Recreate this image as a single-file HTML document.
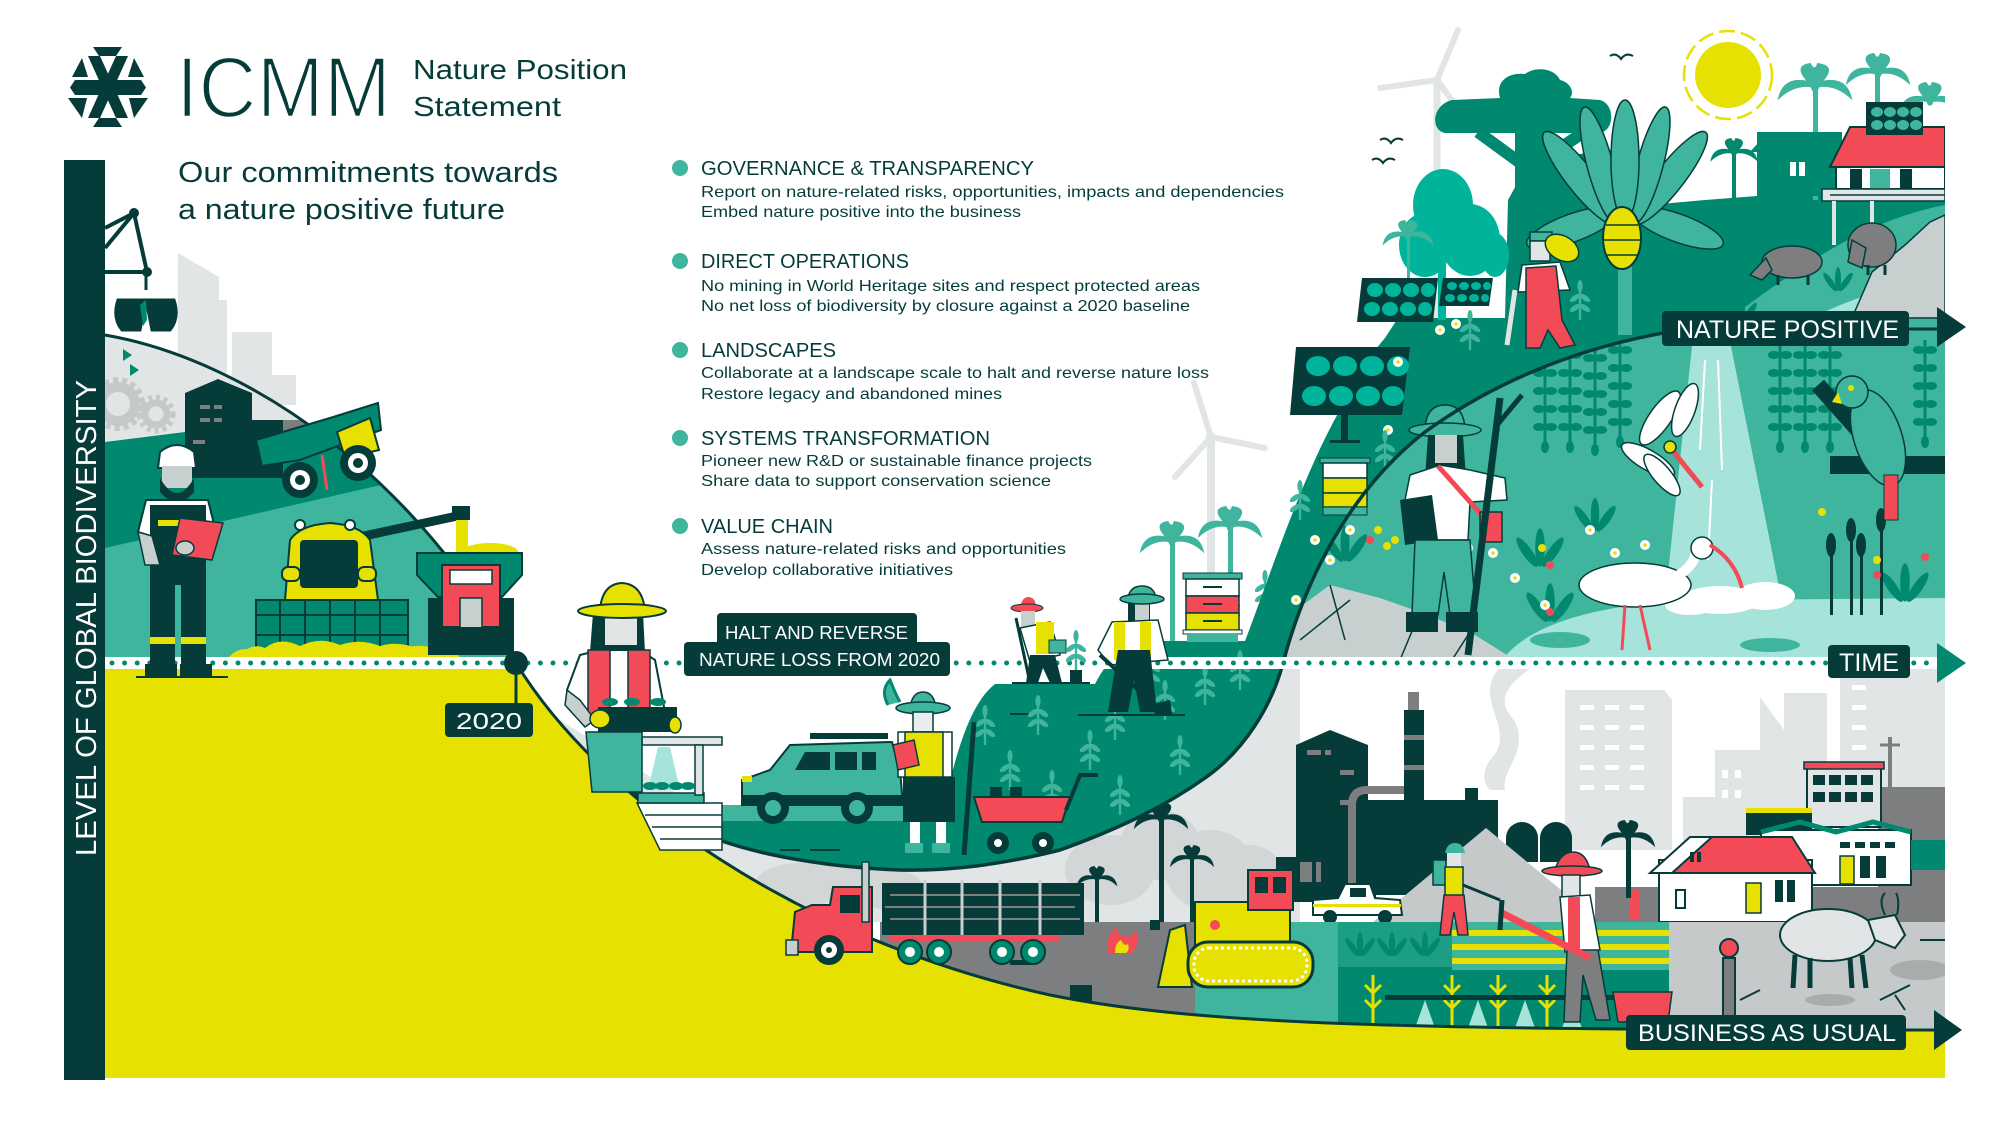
<!DOCTYPE html>
<html><head><meta charset="utf-8"><title>ICMM Nature Position Statement</title>
<style>
html,body{margin:0;padding:0;background:#fff;width:2000px;height:1125px;overflow:hidden}
svg{display:block}
text{font-family:"Liberation Sans",Arial,sans-serif}
</style></head><body>
<svg xmlns="http://www.w3.org/2000/svg" xmlns:xlink="http://www.w3.org/1999/xlink" width="2000" height="1125" viewBox="0 0 2000 1125">
<defs>
 <clipPath id="cl"><path d="M105,335 C250,360 420,480 516,663 L105,663 Z"/></clipPath>
 <clipPath id="cb"><path d="M516,663 C600,800 800,940 1050,995 C1200,1025 1400,1030 1945,1030 L1945,663 Z"/></clipPath>
 <clipPath id="cbowl"><path d="M660,805 L944,805 C955,760 968,705 995,684 L1095,684 C1108,660 1120,645 1143,641 L1290,641 L1283,663 C1272,705 1245,750 1205,778 C1160,810 1110,832 1060,850 C1000,865 950,871 900,870 C840,868 770,858 719,840 C700,830 680,818 660,805 Z"/></clipPath>
 <clipPath id="ci"><path d="M1283,663 C1305,580 1350,490 1425,432 C1490,385 1570,350 1663,333 L1945,328 L1945,663 Z"/></clipPath>
 <clipPath id="cr"><rect x="0" y="0" width="1945" height="1125"/></clipPath>
 <g id="vine" fill="#00896f"><rect x="-1.5" y="0" width="3" height="105"/><ellipse cx="-6" cy="10" rx="6" ry="4"/><ellipse cx="6" cy="10" rx="6" ry="4"/><ellipse cx="-6" cy="28" rx="6" ry="4"/><ellipse cx="6" cy="28" rx="6" ry="4"/><ellipse cx="-6" cy="46" rx="6" ry="4"/><ellipse cx="6" cy="46" rx="6" ry="4"/><ellipse cx="-6" cy="64" rx="6" ry="4"/><ellipse cx="6" cy="64" rx="6" ry="4"/><ellipse cx="-6" cy="82" rx="6" ry="4"/><ellipse cx="6" cy="82" rx="6" ry="4"/><ellipse cx="0" cy="102" rx="4" ry="6"/></g>
 <g id="sap" fill="#3fb59e"><rect x="-1.2" y="-34" width="2.4" height="34"/><ellipse cx="-5" cy="-22" rx="6" ry="2.6" transform="rotate(-35 -5 -22)"/><ellipse cx="5" cy="-22" rx="6" ry="2.6" transform="rotate(35 5 -22)"/><ellipse cx="-5" cy="-12" rx="6" ry="2.6" transform="rotate(-35 -5 -12)"/><ellipse cx="5" cy="-12" rx="6" ry="2.6" transform="rotate(35 5 -12)"/><ellipse cx="0" cy="-34" rx="2.6" ry="6"/></g>
 <g id="fl"><circle r="5" fill="#fff"/><circle r="1.8" fill="#e6e100"/></g>
 <path id="palm" d="M-34,14 Q-30,-8 -8,-4 Q-20,-18 -4,-20 Q0,-12 2,-20 Q20,-18 8,-4 Q30,-8 34,14 Q20,0 4,2 L2,6 L-2,6 L-4,2 Q-20,0 -34,14 Z"/>
 <g id="fan" fill="#00896f"><ellipse cx="-8" cy="-8" rx="3" ry="11" transform="rotate(-35 -8 -8)"/><ellipse cx="0" cy="-11" rx="3" ry="12"/><ellipse cx="8" cy="-8" rx="3" ry="11" transform="rotate(35 8 -8)"/></g>
</defs>

<!-- ===== HEADER ===== -->
<g fill="#053c3a">
 <polygon points="93,47 122,47 116,56 99,56"/>
 <polygon points="99,118 116,118 122,127 93,127"/>
 <polygon points="82,58 72,77 88,77"/>
 <polygon points="134,58 144,77 128,77"/>
 <polygon points="68,98 87,98 82,118"/>
 <polygon points="148,98 129,98 134,118"/>
 <polygon points="75,80 141,80 146,87.5 141,95 75,95 70,87.5"/>
 <polygon points="88,56 100,56 128,118 116,118"/>
 <polygon points="116,56 128,56 100,118 88,118"/>
</g>
<text x="176" y="117" font-size="86" fill="#053c3a" stroke="#fff" stroke-width="2.5" textLength="215" lengthAdjust="spacingAndGlyphs">ICMM</text>
<text x="413" y="79" font-size="28" fill="#053c3a" textLength="214" lengthAdjust="spacingAndGlyphs">Nature Position</text>
<text x="413" y="116" font-size="28" fill="#053c3a" textLength="148" lengthAdjust="spacingAndGlyphs">Statement</text>
<text x="178" y="182" font-size="29" fill="#053c3a" textLength="380" lengthAdjust="spacingAndGlyphs">Our commitments towards</text>
<text x="178" y="219" font-size="29" fill="#053c3a" textLength="327" lengthAdjust="spacingAndGlyphs">a nature positive future</text>

<!-- bar -->
<rect x="64" y="160" width="41" height="920" fill="#053c3a"/>
<text transform="translate(96,856) rotate(-90)" font-size="29" fill="#fff" textLength="476" lengthAdjust="spacingAndGlyphs">LEVEL OF GLOBAL BIODIVERSITY</text>

<!-- list -->
<g fill="#3fb59e"><circle cx="680" cy="168" r="8"/><circle cx="680" cy="261" r="8"/><circle cx="680" cy="350" r="8"/><circle cx="680" cy="438" r="8"/><circle cx="680" cy="526" r="8"/></g>
<g fill="#053c3a" font-size="20">
 <text x="701" y="175" textLength="333" lengthAdjust="spacingAndGlyphs">GOVERNANCE &amp; TRANSPARENCY</text>
 <text x="701" y="268" textLength="208" lengthAdjust="spacingAndGlyphs">DIRECT OPERATIONS</text>
 <text x="701" y="357" textLength="135" lengthAdjust="spacingAndGlyphs">LANDSCAPES</text>
 <text x="701" y="445" textLength="289" lengthAdjust="spacingAndGlyphs">SYSTEMS TRANSFORMATION</text>
 <text x="701" y="533" textLength="132" lengthAdjust="spacingAndGlyphs">VALUE CHAIN</text>
</g>
<g fill="#053c3a" font-size="16">
 <text x="701" y="197" textLength="583" lengthAdjust="spacingAndGlyphs">Report on nature-related risks, opportunities, impacts and dependencies</text>
 <text x="701" y="217" textLength="320" lengthAdjust="spacingAndGlyphs">Embed nature positive into the business</text>
 <text x="701" y="291" textLength="499" lengthAdjust="spacingAndGlyphs">No mining in World Heritage sites and respect protected areas</text>
 <text x="701" y="311" textLength="489" lengthAdjust="spacingAndGlyphs">No net loss of biodiversity by closure against a 2020 baseline</text>
 <text x="701" y="378" textLength="508" lengthAdjust="spacingAndGlyphs">Collaborate at a landscape scale to halt and reverse nature loss</text>
 <text x="701" y="399" textLength="301" lengthAdjust="spacingAndGlyphs">Restore legacy and abandoned mines</text>
 <text x="701" y="466" textLength="391" lengthAdjust="spacingAndGlyphs">Pioneer new R&amp;D or sustainable finance projects</text>
 <text x="701" y="486" textLength="350" lengthAdjust="spacingAndGlyphs">Share data to support conservation science</text>
 <text x="701" y="554" textLength="365" lengthAdjust="spacingAndGlyphs">Assess nature-related risks and opportunities</text>
 <text x="701" y="575" textLength="252" lengthAdjust="spacingAndGlyphs">Develop collaborative initiatives</text>
</g>

<!-- ===== TOP-LEFT CITY + CRANE ===== -->
<g fill="#e2e5e5">
 <polygon points="178,253 219,277 219,400 178,400"/>
 <rect x="219" y="300" width="8" height="100"/>
 <rect x="232" y="332" width="40" height="70"/>
 <rect x="272" y="375" width="24" height="30"/>
</g>
<g stroke="#053c3a" stroke-width="4" fill="none">
 <line x1="105" y1="228" x2="134" y2="213"/>
 <line x1="105" y1="248" x2="134" y2="213"/>
 <line x1="134" y1="213" x2="147" y2="272"/>
 <line x1="105" y1="272" x2="147" y2="272"/>
</g>
<circle cx="134" cy="213" r="5" fill="#053c3a"/><circle cx="147" cy="272" r="5" fill="#053c3a"/>
<path d="M146,276 L146,290 M118,300 Q112,318 122,330 L140,330 L146,300 Z M174,300 Q180,318 170,330 L152,330 L146,300 Z" fill="#053c3a" stroke="#053c3a" stroke-width="3"/>
<polygon points="140,305 146,300 147,320 143,326" fill="#00896f"/>

<!-- wind turbines (behind) -->
<g stroke="#e2e5e5" stroke-linecap="round" fill="none">
 <path d="M1437,82 L1437,330" stroke-width="7"/>
 <path d="M1437,80 L1458,30 M1437,80 L1380,88 M1437,80 L1462,114" stroke-width="6"/>
 <path d="M1211,440 L1211,641" stroke-width="8"/>
 <path d="M1211,437 L1194,383 M1211,437 L1265,448 M1211,437 L1175,477" stroke-width="6"/>
</g>
<circle cx="1437" cy="80" r="4" fill="#e2e5e5"/><circle cx="1211" cy="437" r="5" fill="#e2e5e5"/>

<!-- ===== LEFT HILL ===== -->
<g clip-path="url(#cl)">
 <rect x="105" y="330" width="420" height="340" fill="#e2e5e5"/>
 <g fill="none" stroke="#c6c9ca">
  <circle cx="118" cy="404" r="17" stroke-width="10"/>
  <circle cx="118" cy="404" r="24" stroke-width="6" stroke-dasharray="5 4"/>
  <circle cx="156" cy="414" r="11" stroke-width="7"/>
  <circle cx="156" cy="414" r="17" stroke-width="5" stroke-dasharray="4 4"/>
 </g>
 <polygon points="123,349 132,355 123,361" fill="#00896f"/>
 <polygon points="130,364 139,370 130,376" fill="#00896f"/>
 <path d="M105,442 L185,432 L250,430 L520,392 L520,663 L105,663 Z" fill="#00896f"/>
 <rect x="265" y="420" width="60" height="30" fill="#7c7e7f"/>
 <path d="M185,393 L218,379 L252,393 L252,420 L283,420 L283,478 L185,478 Z" fill="#053c3a"/>
 <g fill="#7c7e7f"><rect x="200" y="405" width="10" height="4"/><rect x="214" y="405" width="8" height="4"/><rect x="200" y="418" width="10" height="4"/><rect x="214" y="418" width="8" height="4"/><rect x="193" y="440" width="12" height="4"/></g>
 <path d="M105,548 L250,515 L385,484 L520,470 L520,663 L105,663 Z" fill="#3fb59e"/>
 <path d="M225,663 Q235,645 255,650 Q265,638 285,647 Q300,636 320,646 Q340,638 360,647 Q380,640 400,649 Q420,642 440,650 Q455,648 465,663 Z" fill="#e6e100"/>
</g>

<!-- ===== YELLOW ===== -->
<path d="M105,663 L516,663 C600,800 800,940 1050,995 C1200,1025 1400,1030 1945,1030 L1945,1078 L105,1078 Z" fill="#e6e100"/>

<!-- ===== BAU ZONE ===== -->
<g clip-path="url(#cb)">
 <path d="M560,720 L719,820 L900,860 L1100,830 L1214,770 L1262,700 L1300,663 L1300,922 L560,922 Z" fill="#e2e5e5"/>
 <path d="M1200,670 C1250,700 1230,740 1255,770 C1275,800 1260,830 1266,847 L1300,847 L1300,663 Z" fill="#e2e5e5"/>
 <g fill="#d3d6d7">
  <ellipse cx="800" cy="885" rx="45" ry="22"/><ellipse cx="850" cy="875" rx="40" ry="22"/><ellipse cx="890" cy="890" rx="35" ry="20"/>
  <ellipse cx="1110" cy="870" rx="45" ry="35"/><ellipse cx="1160" cy="845" rx="40" ry="35"/><ellipse cx="1210" cy="870" rx="45" ry="40"/><ellipse cx="1250" cy="880" rx="35" ry="35"/>
 </g>
 <g fill="#e2e5e5">
  <rect x="1565" y="690" width="99" height="160"/>
  <polygon points="1664,690 1672,700 1672,850 1664,850"/>
  <rect x="1715" y="750" width="46" height="110"/>
  <rect x="1683" y="797" width="40" height="70"/>
  <polygon points="1760,697 1784,730 1784,860 1760,860"/>
  <rect x="1784" y="693" width="43" height="170"/>
  <rect x="1840" y="667" width="105" height="120"/>
  <path d="M1500,667 C1470,700 1520,730 1490,760 C1480,775 1485,785 1490,790 L1505,790 C1500,770 1535,745 1510,715 C1495,695 1515,680 1532,667 Z"/>
 </g>
 <g fill="#fff">
  <rect x="1580" y="705" width="14" height="5"/><rect x="1605" y="705" width="14" height="5"/><rect x="1630" y="705" width="14" height="5"/>
  <rect x="1580" y="725" width="14" height="5"/><rect x="1605" y="725" width="14" height="5"/><rect x="1630" y="725" width="14" height="5"/>
  <rect x="1580" y="745" width="14" height="5"/><rect x="1605" y="745" width="14" height="5"/><rect x="1630" y="745" width="14" height="5"/>
  <rect x="1580" y="765" width="14" height="5"/><rect x="1605" y="765" width="14" height="5"/><rect x="1630" y="765" width="14" height="5"/>
  <rect x="1580" y="785" width="14" height="5"/><rect x="1605" y="785" width="14" height="5"/><rect x="1630" y="785" width="14" height="5"/>
  <rect x="1852" y="685" width="14" height="5"/><rect x="1852" y="705" width="14" height="5"/><rect x="1852" y="725" width="14" height="5"/><rect x="1852" y="745" width="14" height="5"/>
  <rect x="1722" y="770" width="6" height="8"/><rect x="1735" y="770" width="6" height="8"/><rect x="1722" y="790" width="6" height="8"/><rect x="1735" y="790" width="6" height="8"/>
 </g>
 <g fill="#053c3a">
  <path d="M1296,900 L1296,745 L1330,730 L1368,745 L1368,900 Z"/>
  <rect x="1276" y="857" width="100" height="45"/>
  <rect x="1404" y="710" width="20" height="165"/>
  <rect x="1368" y="800" width="130" height="95"/>
  <rect x="1465" y="788" width="13" height="30"/>
  <path d="M1506,862 L1506,838 A16,16 0 0 1 1538,838 L1538,862 Z"/>
  <path d="M1540,862 L1540,838 A16,16 0 0 1 1572,838 L1572,862 Z"/>
 </g>
 <g fill="#7c7e7f">
  <rect x="1408" y="692" width="11" height="18"/><rect x="1404" y="735" width="20" height="5"/><rect x="1404" y="765" width="20" height="5"/>
  <rect x="1307" y="750" width="14" height="5"/><rect x="1325" y="750" width="6" height="5"/><rect x="1340" y="770" width="14" height="5"/><rect x="1340" y="800" width="14" height="5"/>
  <rect x="1300" y="862" width="12" height="20"/><rect x="1316" y="862" width="5" height="20"/>
 </g>
 <path d="M1352,900 L1352,805 Q1352,790 1367,790 L1404,790" stroke="#7c7e7f" stroke-width="8" fill="none"/>
 <polygon points="1373,922 1486,828 1600,922" fill="#c6c9ca"/>
 <rect x="1595" y="887" width="350" height="35" fill="#7c7e7f"/>
 <rect x="1878" y="787" width="67" height="100" fill="#7c7e7f"/>
 <rect x="1807" y="767" width="74" height="60" fill="#e2e5e5" stroke="#053c3a" stroke-width="2"/>
 <rect x="1804" y="762" width="80" height="7" fill="#f24b57" stroke="#053c3a" stroke-width="1.5"/>
 <g fill="#053c3a"><rect x="1813" y="775" width="12" height="10"/><rect x="1829" y="775" width="12" height="10"/><rect x="1845" y="775" width="12" height="10"/><rect x="1861" y="775" width="12" height="10"/><rect x="1813" y="792" width="12" height="10"/><rect x="1829" y="792" width="12" height="10"/><rect x="1845" y="792" width="12" height="10"/><rect x="1861" y="792" width="12" height="10"/></g>
 <rect x="1746" y="810" width="66" height="25" fill="#053c3a"/><rect x="1746" y="808" width="66" height="5" fill="#e6e100"/>
 <rect x="1761" y="830" width="150" height="55" fill="#fff" stroke="#053c3a" stroke-width="2"/>
 <path d="M1761,832 L1800,822 L1836,832 L1873,822 L1911,832" stroke="#00896f" stroke-width="5" fill="none"/>
 <g fill="#053c3a"><rect x="1770" y="842" width="10" height="6"/><rect x="1785" y="842" width="10" height="6"/><rect x="1840" y="842" width="10" height="6"/><rect x="1855" y="842" width="10" height="6"/><rect x="1870" y="842" width="10" height="6"/><rect x="1885" y="842" width="10" height="6"/><rect x="1860" y="856" width="10" height="22"/><rect x="1876" y="856" width="10" height="22"/></g>
 <rect x="1840" y="856" width="14" height="28" fill="#e6e100" stroke="#053c3a" stroke-width="1.5"/>
 <rect x="1911" y="840" width="34" height="30" fill="#00896f"/>
 <rect x="1659" y="860" width="153" height="62" fill="#fff" stroke="#053c3a" stroke-width="2"/>
 <polygon points="1669,873 1710,837 1792,837 1815,873" fill="#f24b57" stroke="#053c3a" stroke-width="2"/>
 <polygon points="1650,873 1690,837 1712,837 1672,873" fill="#fff" stroke="#053c3a" stroke-width="2"/>
 <rect x="1676" y="890" width="9" height="18" fill="#fff" stroke="#053c3a" stroke-width="2"/>
 <rect x="1746" y="883" width="15" height="30" fill="#e6e100" stroke="#053c3a" stroke-width="1.5"/>
 <g fill="#053c3a"><rect x="1775" y="880" width="8" height="22"/><rect x="1787" y="880" width="8" height="22"/><rect x="1690" y="852" width="4" height="10"/><rect x="1697" y="852" width="4" height="10"/></g>
 <rect x="1630" y="890" width="10" height="30" fill="#f24b57"/>
 <path d="M1313,915 L1313,900 L1338,898 L1345,884 L1370,884 L1375,898 L1400,900 L1402,915 Z" fill="#fff" stroke="#053c3a" stroke-width="2"/>
 <rect x="1313" y="904" width="88" height="3" fill="#e6e100"/>
 <rect x="1350" y="888" width="16" height="9" fill="#053c3a"/>
 <circle cx="1330" cy="917" r="7" fill="#053c3a"/><circle cx="1385" cy="917" r="7" fill="#053c3a"/>
 <g fill="#053c3a">
  <rect x="1095" y="880" width="4" height="45"/><use xlink:href="#palm" transform="translate(1097,878) scale(0.6)"/>
  <rect x="1159" y="820" width="5" height="105"/><use xlink:href="#palm" transform="translate(1161,818) scale(0.8)"/>
  <rect x="1190" y="860" width="4" height="65"/><use xlink:href="#palm" transform="translate(1192,858) scale(0.65)"/>
  <rect x="1626" y="838" width="5" height="60"/><use xlink:href="#palm" transform="translate(1628,836) scale(0.8)"/>
 </g>
 <rect x="880" y="922" width="315" height="115" fill="#7c7e7f"/>
 <rect x="1195" y="922" width="143" height="115" fill="#3fb59e"/>
 <rect x="1338" y="922" width="114" height="115" fill="#00896f"/>
 <rect x="1338" y="922" width="114" height="45" fill="#3fb59e" opacity="0.45"/>
 <g fill="#3fb59e"><use xlink:href="#fan" transform="translate(1360,955)"/><use xlink:href="#fan" transform="translate(1392,955)"/><use xlink:href="#fan" transform="translate(1425,955)"/></g>
 <rect x="1452" y="922" width="217" height="48" fill="#3fb59e"/>
 <g fill="#e6e100"><rect x="1452" y="930" width="217" height="6"/><rect x="1452" y="944" width="217" height="6"/><rect x="1452" y="958" width="217" height="6"/></g>
 <rect x="1452" y="970" width="217" height="65" fill="#00896f"/>
 <g fill="#a6e3da"><polygon points="1415,1028 1425,1000 1435,1028"/><polygon points="1468,1028 1478,1000 1488,1028"/><polygon points="1515,1028 1525,1000 1535,1028"/><polygon points="1562,1028 1572,1000 1582,1028"/></g>
 <g stroke="#e6e100" stroke-width="3" fill="none">
  <path d="M1373,1028 L1373,975 M1365,985 L1373,993 L1381,985 M1365,1000 L1373,1008 L1381,1000"/>
  <path d="M1452,1028 L1452,975 M1444,985 L1452,993 L1460,985 M1444,1000 L1452,1008 L1460,1000"/>
  <path d="M1498,1028 L1498,975 M1490,985 L1498,993 L1506,985 M1490,1000 L1498,1008 L1506,1000"/>
  <path d="M1547,1028 L1547,975 M1539,985 L1547,993 L1555,985 M1539,1000 L1547,1008 L1555,1000"/>
 </g>
 <rect x="1385" y="995" width="250" height="5" fill="#053c3a"/>
 <rect x="1669" y="922" width="276" height="115" fill="#c6c9ca"/>
 <ellipse cx="1920" cy="970" rx="30" ry="10" fill="#a9acad"/><ellipse cx="1830" cy="1000" rx="25" ry="6" fill="#a9acad"/>
 <g stroke="#053c3a" stroke-width="2" fill="none"><path d="M1880,1000 L1910,985 M1895,995 L1905,1010 M1740,1000 L1760,990 M1920,940 L1945,940"/></g>
 <g fill="#053c3a"><rect x="1070" y="985" width="22" height="18"/><rect x="1150" y="920" width="10" height="10"/><rect x="1010" y="960" width="20" height="5"/><ellipse cx="1180" cy="975" rx="12" ry="8"/></g>
 <path d="M1108,953 Q1105,935 1118,926 Q1116,938 1124,935 Q1130,940 1136,930 Q1140,945 1132,953 Z" fill="#f24b57"/>
 <path d="M1115,953 Q1115,943 1121,940 Q1124,947 1128,944 Q1130,950 1126,953 Z" fill="#e6e100"/>
 <ellipse cx="1828" cy="935" rx="48" ry="26" fill="#e2e5e5" stroke="#053c3a" stroke-width="2"/>
 <path d="M1868,920 L1895,915 L1905,935 L1895,948 L1875,940 Z" fill="#e2e5e5" stroke="#053c3a" stroke-width="2"/>
 <path d="M1885,915 Q1878,900 1885,893 M1897,915 Q1900,900 1896,893" stroke="#053c3a" stroke-width="2" fill="none"/>
 <g stroke="#053c3a" stroke-width="5"><line x1="1795" y1="955" x2="1793" y2="988"/><line x1="1810" y1="958" x2="1810" y2="988"/><line x1="1850" y1="958" x2="1852" y2="988"/><line x1="1862" y1="955" x2="1866" y2="988"/></g>
 <rect x="1723" y="958" width="12" height="60" fill="#7c7e7f" stroke="#053c3a" stroke-width="2"/>
 <circle cx="1729" cy="948" r="9" fill="#f24b57" stroke="#053c3a" stroke-width="2"/>
 <line x1="1890" y1="737" x2="1890" y2="790" stroke="#7c7e7f" stroke-width="4"/><line x1="1880" y1="745" x2="1900" y2="745" stroke="#7c7e7f" stroke-width="3"/>
</g>

<!-- ===== BOWL ===== -->
<g clip-path="url(#cbowl)">
 <rect x="650" y="630" width="650" height="250" fill="#00896f"/>
 <rect x="719" y="801" width="230" height="20" fill="#3fb59e"/>
 <g stroke="#053c3a" stroke-width="2"><line x1="780" y1="850" x2="800" y2="850"/><line x1="810" y1="850" x2="840" y2="850"/><line x1="1010" y1="714" x2="1030" y2="714"/></g>
</g>
<g>
 <use xlink:href="#sap" x="985" y="745"/><use xlink:href="#sap" x="1010" y="790"/><use xlink:href="#sap" x="1052" y="810"/><use xlink:href="#sap" x="1038" y="735"/>
 <use xlink:href="#sap" x="1090" y="770"/><use xlink:href="#sap" x="1120" y="815"/><use xlink:href="#sap" x="1115" y="740"/><use xlink:href="#sap" x="1165" y="720"/>
 <use xlink:href="#sap" x="1180" y="775"/><use xlink:href="#sap" x="1205" y="705"/><use xlink:href="#sap" x="1240" y="690"/><use xlink:href="#sap" x="1150" y="690"/>
 <use xlink:href="#sap" x="1230" y="625"/><use xlink:href="#sap" x="1265" y="610"/>
</g>

<!-- ===== NATURE REGION ===== -->
<g clip-path="url(#cr)">
 <path d="M1245,663 L1245,641 C1265,590 1300,480 1340,410 C1355,380 1370,355 1385,338 L1398,318 L1505,318 L1508,200 L1530,160 L1612,150 L1650,205 L1705,200 L1757,196 L1757,132 L1842,132 L1842,196 L1945,190 L1945,663 Z" fill="#00896f"/>
 <path d="M1445,133 C1430,130 1432,105 1452,100 L1500,98 C1495,80 1510,72 1525,74 C1535,66 1555,68 1560,80 C1570,82 1575,92 1570,98 L1600,100 C1615,104 1615,130 1600,133 Z" fill="#00896f"/>
 <rect x="1515" y="125" width="34" height="200" fill="#00896f"/>
 <path d="M1530,170 L1478,132 M1535,165 L1590,128" stroke="#00896f" stroke-width="12"/>
 <g fill="#00b39b">
  <ellipse cx="1443" cy="205" rx="30" ry="36"/><ellipse cx="1425" cy="245" rx="26" ry="32"/><ellipse cx="1470" cy="240" rx="30" ry="36"/><ellipse cx="1495" cy="255" rx="14" ry="22"/>
  <rect x="1438" y="250" width="8" height="70"/>
 </g>
 <g fill="#3fb59e"><rect x="1407" y="235" width="3" height="85"/><use xlink:href="#palm" transform="translate(1408,235) scale(0.75)"/></g>
 <path d="M1705,335 C1760,300 1840,225 1945,205 L1945,335 Z" fill="#3fb59e"/>
 <path d="M1790,330 C1830,305 1880,290 1945,270 L1945,286 C1890,305 1840,325 1810,336 Z" fill="#a6e3da"/>
 <g fill="#3fb59e" stroke="#053c3a" stroke-width="1.5">
  <ellipse cx="1572" cy="228" rx="48" ry="14" transform="rotate(-20 1572 228)"/>
  <ellipse cx="1678" cy="228" rx="48" ry="14" transform="rotate(20 1678 228)"/>
  <ellipse cx="1580" cy="178" rx="14" ry="58" transform="rotate(-38 1580 178)"/>
  <ellipse cx="1670" cy="178" rx="14" ry="58" transform="rotate(38 1670 178)"/>
  <ellipse cx="1600" cy="165" rx="13" ry="60" transform="rotate(-15 1600 165)"/>
  <ellipse cx="1650" cy="165" rx="13" ry="60" transform="rotate(15 1650 165)"/>
  <ellipse cx="1625" cy="160" rx="14" ry="60"/>
 </g>
 <rect x="1618" y="250" width="14" height="85" fill="#3fb59e"/>
 <ellipse cx="1622" cy="238" rx="19" ry="31" fill="#e6e100" stroke="#053c3a" stroke-width="2"/>
 <path d="M1606,225 L1638,225 M1604,240 L1640,240 M1606,255 L1638,255" stroke="#053c3a" stroke-width="1.5"/>
 <circle cx="1728" cy="75" r="33" fill="#e6e100"/>
 <circle cx="1728" cy="75" r="44" fill="none" stroke="#e6e100" stroke-width="2.5" stroke-dasharray="16 6"/>
 <g fill="#3fb59e">
  <rect x="1813" y="85" width="5" height="115"/><use xlink:href="#palm" transform="translate(1815,85) scale(1.1)"/>
  <rect x="1875" y="72" width="5" height="60"/><use xlink:href="#palm" transform="translate(1878,72) scale(0.95)"/>
  <use xlink:href="#palm" transform="translate(1930,100) scale(0.9)"/>
 </g>
 <rect x="1757" y="150" width="70" height="46" fill="#00896f"/>
 <polygon points="1750,152 1768,132 1818,132 1834,152" fill="#00896f"/>
 <g fill="#fff"><rect x="1790" y="162" width="6" height="14"/><rect x="1799" y="162" width="6" height="14"/></g>
 <g fill="#00896f"><rect x="1732" y="150" width="4" height="50"/><use xlink:href="#palm" transform="translate(1734,152) scale(0.7)"/></g>
 <rect x="1836" y="167" width="109" height="22" fill="#fff" stroke="#053c3a" stroke-width="2"/>
 <g fill="#053c3a"><rect x="1850" y="169" width="12" height="20"/><rect x="1900" y="169" width="12" height="20"/></g>
 <rect x="1870" y="169" width="20" height="20" fill="#3fb59e"/>
 <rect x="1822" y="189" width="123" height="12" fill="#e2e5e5" stroke="#053c3a" stroke-width="1.5"/>
 <path d="M1830,195 L1945,195" stroke="#053c3a" stroke-width="1.5"/>
 <g fill="#e2e5e5"><rect x="1832" y="201" width="4" height="44"/><rect x="1870" y="201" width="4" height="30"/></g>
 <polygon points="1830,167 1850,127 1945,127 1945,167" fill="#f24b57" stroke="#053c3a" stroke-width="2"/>
 <rect x="1866" y="102" width="57" height="33" fill="#053c3a"/>
 <g fill="#3fb59e"><ellipse cx="1877" cy="112" rx="6" ry="5"/><ellipse cx="1890" cy="112" rx="6" ry="5"/><ellipse cx="1903" cy="112" rx="6" ry="5"/><ellipse cx="1916" cy="112" rx="6" ry="5"/><ellipse cx="1877" cy="125" rx="6" ry="5"/><ellipse cx="1890" cy="125" rx="6" ry="5"/><ellipse cx="1903" cy="125" rx="6" ry="5"/><ellipse cx="1916" cy="125" rx="6" ry="5"/></g>
 <polygon points="1852,318 1872,272 1905,245 1930,222 1945,215 1945,318" fill="#c8cfcf" stroke="#053c3a" stroke-width="1.5"/>
 <g fill="#7c7e7f" stroke="#053c3a" stroke-width="1.5">
  <ellipse cx="1792" cy="262" rx="30" ry="16"/><path d="M1766,258 L1750,275 L1762,280 L1772,270 Z"/>
  <ellipse cx="1872" cy="245" rx="24" ry="22"/><path d="M1852,240 L1848,262 L1862,268 L1866,248 Z"/>
 </g>
 <g stroke="#053c3a" stroke-width="3"><line x1="1778" y1="275" x2="1778" y2="285"/><line x1="1808" y1="275" x2="1808" y2="285"/><line x1="1868" y1="265" x2="1868" y2="275"/><line x1="1885" y1="265" x2="1885" y2="275"/></g>
 <g fill="#3fb59e"><use xlink:href="#fan" transform="translate(1720,318)"/><use xlink:href="#fan" transform="translate(1742,320)"/><use xlink:href="#fan" transform="translate(1838,290)"/></g>
 <use xlink:href="#sap" x="1470" y="350"/><use xlink:href="#sap" x="1580" y="320"/>

 <g clip-path="url(#ci)">
  <rect x="1250" y="320" width="700" height="350" fill="#3fb59e"/>
  <use xlink:href="#vine" x="1545" y="345"/><use xlink:href="#vine" x="1570" y="345"/><use xlink:href="#vine" x="1595" y="348"/><use xlink:href="#vine" x="1620" y="340"/>
  <use xlink:href="#vine" x="1780" y="345"/><use xlink:href="#vine" x="1805" y="345"/><use xlink:href="#vine" x="1830" y="345"/><use xlink:href="#vine" x="1925" y="340"/>
  <polygon points="1692,346 1731,346 1784,612 1664,612" fill="#a6e3da"/>
  <g stroke="#fff" stroke-width="2"><line x1="1705" y1="360" x2="1700" y2="450"/><line x1="1718" y1="360" x2="1722" y2="470"/><line x1="1712" y1="480" x2="1708" y2="560"/></g>
  <path d="M1500,663 C1530,618 1620,600 1720,600 L1945,598 L1945,663 Z" fill="#a6e3da"/>
  <g fill="#fff"><ellipse cx="1720" cy="600" rx="40" ry="14"/><ellipse cx="1765" cy="596" rx="30" ry="14"/><ellipse cx="1690" cy="605" rx="25" ry="10"/></g>
  <ellipse cx="1560" cy="640" rx="30" ry="8" fill="#3fb59e"/><ellipse cx="1770" cy="645" rx="30" ry="7" fill="#3fb59e"/>
  <polygon points="1262,663 1285,618 1330,585 1380,598 1420,612 1470,632 1520,663" fill="#c8cfcf"/>
  <g stroke="#053c3a" stroke-width="1.5" fill="none"><path d="M1330,585 L1345,640 M1300,640 L1350,600 M1420,612 L1400,660 M1470,632 L1450,663"/></g>
  <g fill="#00896f"><use xlink:href="#fan" transform="translate(1540,565) scale(1.6)"/><use xlink:href="#fan" transform="translate(1595,530) scale(1.4)"/><use xlink:href="#fan" transform="translate(1550,620) scale(1.6)"/><use xlink:href="#fan" transform="translate(1610,600) scale(1.3)"/><use xlink:href="#fan" transform="translate(1345,560) scale(1.5)"/><use xlink:href="#fan" transform="translate(1905,600) scale(1.6)"/></g>
  <g fill="#053c3a"><rect x="1830" y="540" width="3" height="75"/><ellipse cx="1831" cy="545" rx="5" ry="12"/><rect x="1850" y="525" width="3" height="90"/><ellipse cx="1851" cy="530" rx="5" ry="12"/><rect x="1860" y="540" width="3" height="75"/><ellipse cx="1861" cy="545" rx="5" ry="12"/><rect x="1880" y="515" width="3" height="100"/><ellipse cx="1881" cy="520" rx="5" ry="12"/></g>
  <g fill="#e6e100"><circle cx="1378" cy="530" r="4"/><circle cx="1387" cy="546" r="4"/><circle cx="1395" cy="540" r="4"/><circle cx="1542" cy="548" r="4"/><circle cx="1822" cy="512" r="4"/><circle cx="1877" cy="560" r="4"/></g>
  <g fill="#f24b57"><circle cx="1370" cy="540" r="4"/><circle cx="1550" cy="565" r="4"/><circle cx="1550" cy="612" r="4"/><circle cx="1925" cy="557" r="4"/><circle cx="1877" cy="575" r="4"/></g>
  <use xlink:href="#fl" x="1590" y="530"/><use xlink:href="#fl" x="1615" y="553"/><use xlink:href="#fl" x="1545" y="605"/><use xlink:href="#fl" x="1645" y="545"/><use xlink:href="#fl" x="1515" y="578"/><use xlink:href="#fl" x="1468" y="548"/><use xlink:href="#fl" x="1493" y="553"/>
 </g>
 <rect x="1320" y="458" width="50" height="5" fill="#3fb59e" stroke="#053c3a" stroke-width="1"/>
 <rect x="1323" y="463" width="44" height="15" fill="#fff" stroke="#053c3a" stroke-width="1.5"/>
 <rect x="1323" y="478" width="44" height="15" fill="#e6e100" stroke="#053c3a" stroke-width="1.5"/>
 <rect x="1323" y="493" width="44" height="14" fill="#e6e100" stroke="#053c3a" stroke-width="1.5"/>
 <rect x="1323" y="507" width="44" height="8" fill="#3fb59e" stroke="#053c3a" stroke-width="1"/>
 <polygon points="1296,347 1410,347 1402,415 1290,415" fill="#053c3a"/>
 <g fill="#00b39b"><ellipse cx="1318" cy="366" rx="12" ry="10"/><ellipse cx="1345" cy="366" rx="12" ry="10"/><ellipse cx="1372" cy="366" rx="12" ry="10"/><ellipse cx="1398" cy="366" rx="11" ry="10"/><ellipse cx="1314" cy="396" rx="12" ry="10"/><ellipse cx="1341" cy="396" rx="12" ry="10"/><ellipse cx="1368" cy="396" rx="12" ry="10"/><ellipse cx="1393" cy="396" rx="11" ry="10"/></g>
 <rect x="1341" y="415" width="7" height="27" fill="#053c3a"/><rect x="1330" y="440" width="30" height="3" fill="#053c3a"/>
 <polygon points="1362,278 1438,278 1433,322 1357,322" fill="#053c3a"/>
 <g fill="#00b39b"><ellipse cx="1375" cy="290" rx="8" ry="7"/><ellipse cx="1393" cy="290" rx="8" ry="7"/><ellipse cx="1411" cy="290" rx="8" ry="7"/><ellipse cx="1428" cy="290" rx="7" ry="7"/><ellipse cx="1372" cy="309" rx="8" ry="7"/><ellipse cx="1390" cy="309" rx="8" ry="7"/><ellipse cx="1408" cy="309" rx="8" ry="7"/><ellipse cx="1425" cy="309" rx="7" ry="7"/></g>
 <polygon points="1443,278 1493,278 1489,306 1439,306" fill="#053c3a"/>
 <g fill="#00b39b"><ellipse cx="1452" cy="286" rx="5" ry="4"/><ellipse cx="1464" cy="286" rx="5" ry="4"/><ellipse cx="1476" cy="286" rx="5" ry="4"/><ellipse cx="1487" cy="286" rx="4" ry="4"/><ellipse cx="1450" cy="298" rx="5" ry="4"/><ellipse cx="1462" cy="298" rx="5" ry="4"/><ellipse cx="1474" cy="298" rx="5" ry="4"/><ellipse cx="1485" cy="298" rx="4" ry="4"/></g>
 <use xlink:href="#fl" x="1440" y="330"/><use xlink:href="#fl" x="1456" y="324"/><use xlink:href="#fl" x="1398" y="362"/><use xlink:href="#fl" x="1388" y="430"/><use xlink:href="#fl" x="1350" y="530"/><use xlink:href="#fl" x="1315" y="540"/><use xlink:href="#fl" x="1330" y="560"/><use xlink:href="#fl" x="1296" y="600"/>
 <use xlink:href="#sap" x="1300" y="520"/><use xlink:href="#sap" x="1385" y="470"/>
 <g stroke="#053c3a" stroke-width="2" fill="none"><path d="M1610,56 Q1616,52 1621,59 Q1626,52 1633,56"/><path d="M1380,140 Q1386,136 1391,143 Q1396,136 1403,140"/><path d="M1372,160 Q1378,156 1383,163 Q1388,156 1395,160"/></g>

 <rect x="1530" y="232" width="22" height="9" fill="#3fb59e" stroke="#053c3a" stroke-width="1.5"/>
 <rect x="1530" y="241" width="20" height="20" fill="#e2e5e5" stroke="#053c3a" stroke-width="1.5"/>
 <path d="M1518,292 L1522,265 L1560,262 L1570,290 Z" fill="#fff" stroke="#053c3a" stroke-width="1.5"/>
 <path d="M1526,268 L1556,266 L1562,320 L1575,345 L1560,348 L1548,330 L1540,348 L1526,348 Z" fill="#f24b57" stroke="#053c3a" stroke-width="1.5"/>
 <ellipse cx="1562" cy="248" rx="18" ry="12" fill="#e6e100" stroke="#053c3a" stroke-width="1.5" transform="rotate(30 1562 248)"/>
 <line x1="1515" y1="290" x2="1507" y2="345" stroke="#e2e5e5" stroke-width="5"/>

 <path d="M1425,432 Q1425,405 1445,405 Q1465,405 1465,432 Z" fill="#3fb59e" stroke="#053c3a" stroke-width="1.5"/>
 <ellipse cx="1445" cy="430" rx="36" ry="7" fill="#3fb59e" stroke="#053c3a" stroke-width="1.5"/>
 <path d="M1428,435 L1463,435 L1466,478 L1425,478 Z" fill="#053c3a"/>
 <rect x="1435" y="435" width="22" height="28" fill="#c8cfcf"/>
 <path d="M1410,475 L1440,465 L1470,470 L1505,478 L1507,500 L1470,502 L1468,540 L1415,540 L1404,505 Z" fill="#fff" stroke="#053c3a" stroke-width="1.5"/>
 <line x1="1438" y1="466" x2="1488" y2="522" stroke="#f24b57" stroke-width="5"/>
 <rect x="1480" y="512" width="22" height="30" fill="#f24b57" stroke="#053c3a" stroke-width="1.5"/>
 <polygon points="1400,500 1432,495 1438,540 1405,545" fill="#053c3a"/>
 <path d="M1415,540 L1470,540 L1476,615 L1450,615 L1444,572 L1438,615 L1412,615 Z" fill="#3fb59e" stroke="#053c3a" stroke-width="1.5"/>
 <rect x="1406" y="612" width="32" height="20" fill="#053c3a"/><rect x="1446" y="612" width="32" height="20" fill="#053c3a"/>
 <line x1="1500" y1="398" x2="1468" y2="655" stroke="#053c3a" stroke-width="7"/>
 <line x1="1497" y1="425" x2="1522" y2="395" stroke="#053c3a" stroke-width="5"/>
 <g fill="#fff" stroke="#053c3a" stroke-width="1.5">
  <ellipse cx="1660" cy="418" rx="11" ry="32" transform="rotate(35 1660 418)"/>
  <ellipse cx="1685" cy="410" rx="10" ry="28" transform="rotate(20 1685 410)"/>
  <ellipse cx="1648" cy="460" rx="10" ry="30" transform="rotate(-60 1648 460)"/>
  <ellipse cx="1662" cy="475" rx="9" ry="26" transform="rotate(-40 1662 475)"/>
 </g>
 <line x1="1668" y1="445" x2="1702" y2="487" stroke="#f24b57" stroke-width="5"/>
 <circle cx="1670" cy="447" r="6" fill="#e6e100" stroke="#053c3a" stroke-width="1.5"/>
 <ellipse cx="1635" cy="585" rx="56" ry="22" fill="#fff" stroke="#053c3a" stroke-width="1.5"/>
 <path d="M1670,580 Q1700,565 1695,545" stroke="#fff" stroke-width="10" fill="none"/>
 <circle cx="1702" cy="548" r="11" fill="#fff" stroke="#053c3a" stroke-width="1.5"/>
 <path d="M1710,545 Q1735,560 1742,588" stroke="#f24b57" stroke-width="4" fill="none"/>
 <g stroke="#f24b57" stroke-width="3"><line x1="1625" y1="605" x2="1622" y2="650"/><line x1="1640" y1="605" x2="1650" y2="650"/></g>
 <line x1="1818" y1="385" x2="1895" y2="472" stroke="#053c3a" stroke-width="16"/>
 <rect x="1830" y="456" width="115" height="18" fill="#053c3a"/>
 <ellipse cx="1878" cy="438" rx="24" ry="50" fill="#3fb59e" stroke="#053c3a" stroke-width="1.5" transform="rotate(-18 1878 438)"/>
 <circle cx="1852" cy="392" r="16" fill="#3fb59e" stroke="#053c3a" stroke-width="1.5"/>
 <circle cx="1851" cy="388" r="3" fill="#e6e100"/>
 <path d="M1838,392 L1832,402 L1842,404 Z" fill="#e6e100"/>
 <rect x="1884" y="475" width="14" height="45" fill="#f24b57" stroke="#053c3a" stroke-width="1"/>

 <g fill="#3fb59e">
  <rect x="1170" y="540" width="5" height="101"/><use xlink:href="#palm" transform="translate(1172,540) scale(0.95)"/>
  <rect x="1228" y="525" width="5" height="116"/><use xlink:href="#palm" transform="translate(1230,525) scale(0.95)"/>
 </g>
 <rect x="1183" y="573" width="59" height="6" fill="#3fb59e" stroke="#053c3a" stroke-width="1"/>
 <rect x="1186" y="579" width="53" height="17" fill="#fff" stroke="#053c3a" stroke-width="1.5"/>
 <rect x="1186" y="596" width="53" height="17" fill="#f24b57" stroke="#053c3a" stroke-width="1.5"/>
 <rect x="1186" y="613" width="53" height="17" fill="#e6e100" stroke="#053c3a" stroke-width="1.5"/>
 <rect x="1183" y="630" width="59" height="4" fill="#fff" stroke="#053c3a" stroke-width="1"/>
 <rect x="1187" y="634" width="51" height="8" fill="#3fb59e"/>
 <g stroke="#053c3a" stroke-width="2"><line x1="1203" y1="587" x2="1222" y2="587"/><line x1="1203" y1="604" x2="1222" y2="604"/><line x1="1203" y1="621" x2="1222" y2="621"/></g>
</g>

<!-- ===== CURVE STROKES ===== -->
<path d="M105,335 C250,360 420,480 516,663 C600,800 800,940 1050,995 C1200,1025 1400,1030 1945,1030" fill="none" stroke="#053c3a" stroke-width="3"/>
<path d="M600,765 C640,800 680,828 719,840 C770,858 840,868 900,870 C950,871 1000,865 1060,850 C1110,832 1160,810 1205,778 C1245,750 1272,705 1283,663 C1305,580 1350,490 1425,432 C1490,385 1570,350 1663,333" fill="none" stroke="#053c3a" stroke-width="3.5"/>

<!-- ===== DOTTED LINE ===== -->
<rect x="105" y="657" width="1840" height="12" fill="#fff"/>
<line x1="112" y1="663" x2="1928" y2="663" stroke="#00896f" stroke-width="5" stroke-linecap="round" stroke-dasharray="0 12.6"/>

<!-- ===== LEFT FIGURES ===== -->
<polygon points="256,440 330,418 378,403 381,430 300,460 262,466" fill="#00896f" stroke="#053c3a" stroke-width="2"/>
<polygon points="337,432 370,418 379,450 345,458" fill="#e6e100" stroke="#053c3a" stroke-width="2"/>
<circle cx="300" cy="480" r="18" fill="#053c3a"/><circle cx="300" cy="480" r="10" fill="#fff"/><circle cx="300" cy="480" r="5" fill="#053c3a"/>
<circle cx="358" cy="463" r="18" fill="#053c3a"/><circle cx="358" cy="463" r="10" fill="#fff"/><circle cx="358" cy="463" r="5" fill="#053c3a"/>
<line x1="322" y1="455" x2="327" y2="490" stroke="#f24b57" stroke-width="3"/>
<line x1="345" y1="540" x2="462" y2="515" stroke="#053c3a" stroke-width="9"/>
<rect x="452" y="506" width="18" height="14" fill="#053c3a"/>
<rect x="456" y="520" width="12" height="33" fill="#e6e100"/>
<path d="M285,600 L290,540 Q300,525 330,523 Q360,525 370,540 L378,600 Z" fill="#e6e100" stroke="#053c3a" stroke-width="2"/>
<rect x="300" y="540" width="58" height="48" rx="4" fill="#053c3a"/>
<circle cx="300" cy="525" r="5" fill="#fff" stroke="#053c3a" stroke-width="2"/><circle cx="350" cy="525" r="5" fill="#fff" stroke="#053c3a" stroke-width="2"/>
<rect x="282" y="567" width="18" height="14" rx="6" fill="#e6e100" stroke="#053c3a" stroke-width="2"/><rect x="358" y="567" width="18" height="14" rx="6" fill="#e6e100" stroke="#053c3a" stroke-width="2"/>
<rect x="256" y="600" width="152" height="53" fill="#00896f" stroke="#053c3a" stroke-width="2"/>
<g stroke="#053c3a" stroke-width="2"><line x1="256" y1="615" x2="408" y2="615"/><line x1="256" y1="635" x2="408" y2="635"/><line x1="280" y1="600" x2="280" y2="653"/><line x1="305" y1="600" x2="305" y2="653"/><line x1="330" y1="600" x2="330" y2="653"/><line x1="355" y1="600" x2="355" y2="653"/><line x1="380" y1="600" x2="380" y2="653"/></g>
<path d="M240,657 Q250,642 265,648 Q280,636 300,646 Q320,636 340,645 Q360,638 380,646 Q400,640 420,650 L425,657 Z" fill="#e6e100"/>
<ellipse cx="490" cy="552" rx="28" ry="9" fill="#e6e100"/>
<polygon points="417,553 522,553 522,575 502,597 438,597 417,575" fill="#00896f" stroke="#053c3a" stroke-width="2"/>
<rect x="428" y="598" width="14" height="57" fill="#053c3a"/><rect x="500" y="598" width="14" height="57" fill="#053c3a"/>
<rect x="442" y="565" width="58" height="62" fill="#f24b57" stroke="#053c3a" stroke-width="2"/>
<rect x="450" y="570" width="42" height="14" fill="#fff" stroke="#053c3a" stroke-width="1.5"/>
<rect x="460" y="598" width="22" height="30" fill="#c8cfcf" stroke="#053c3a" stroke-width="1.5"/>
<rect x="442" y="627" width="58" height="28" fill="#053c3a"/>
<path d="M158,468 L160,452 Q177,438 194,452 L196,468 Z" fill="#fff" stroke="#053c3a" stroke-width="2"/>
<rect x="162" y="466" width="30" height="22" fill="#c8cfcf"/>
<path d="M160,478 Q177,508 194,478 L194,492 Q177,512 160,492 Z" fill="#053c3a"/>
<path d="M138,532 L146,500 L208,500 L216,532 L204,536 L150,536 Z" fill="#fff" stroke="#053c3a" stroke-width="2"/>
<rect x="150" y="505" width="56" height="80" fill="#053c3a"/>
<rect x="150" y="580" width="25" height="88" fill="#053c3a"/><rect x="181" y="580" width="25" height="88" fill="#053c3a"/>
<g fill="#e6e100"><rect x="150" y="637" width="25" height="7"/><rect x="181" y="637" width="25" height="7"/><rect x="158" y="520" width="38" height="6"/></g>
<polygon points="138,532 152,536 160,565 145,565" fill="#c8cfcf" stroke="#053c3a" stroke-width="1.5"/>
<polygon points="180,518 223,523 212,560 172,555" fill="#f24b57" stroke="#053c3a" stroke-width="1.5"/>
<ellipse cx="185" cy="548" rx="9" ry="7" fill="#c8cfcf" stroke="#053c3a" stroke-width="1.5"/>
<rect x="145" y="664" width="32" height="13" fill="#053c3a"/><rect x="180" y="664" width="32" height="13" fill="#053c3a"/>
<line x1="136" y1="677" x2="228" y2="677" stroke="#053c3a" stroke-width="2"/>

<!-- ===== MIDDLE FIGURES ===== -->
<polygon points="637,803 722,803 722,850 660,850" fill="#fff" stroke="#053c3a" stroke-width="1.5"/>
<g stroke="#053c3a" stroke-width="1.5"><line x1="645" y1="815" x2="722" y2="815"/><line x1="652" y1="827" x2="722" y2="827"/><line x1="660" y1="839" x2="722" y2="839"/></g>
<rect x="638" y="793" width="66" height="10" fill="#3fb59e" stroke="#053c3a" stroke-width="1.5"/>
<polygon points="658,747 670,747 680,790 648,790" fill="#a6e3da"/>
<rect x="642" y="737" width="80" height="8" fill="#e2e5e5" stroke="#053c3a" stroke-width="1.5"/>
<rect x="695" y="745" width="8" height="50" fill="#e2e5e5" stroke="#053c3a" stroke-width="1.5"/>
<g fill="#00896f"><ellipse cx="650" cy="786" rx="7" ry="4"/><ellipse cx="662" cy="786" rx="7" ry="4"/><ellipse cx="676" cy="786" rx="7" ry="4"/><ellipse cx="688" cy="786" rx="7" ry="4"/></g>
<path d="M593,613 L643,613 L645,652 L590,652 Z" fill="#053c3a"/>
<rect x="605" y="615" width="32" height="30" fill="#e2e5e5"/>
<path d="M567,690 L580,655 L600,650 L640,650 L655,660 L665,712 L575,712 Z" fill="#fff" stroke="#053c3a" stroke-width="2"/>
<rect x="588" y="650" width="22" height="65" fill="#f24b57" stroke="#053c3a" stroke-width="1.5"/>
<rect x="628" y="650" width="22" height="58" fill="#f24b57" stroke="#053c3a" stroke-width="1.5"/>
<polygon points="567,690 580,700 595,720 585,727 565,705" fill="#c8cfcf" stroke="#053c3a" stroke-width="1.5"/>
<path d="M586,732 L642,732 L642,792 L592,792 Z" fill="#3fb59e" stroke="#053c3a" stroke-width="1.5"/>
<rect x="598" y="707" width="79" height="25" fill="#053c3a"/>
<g fill="#00896f"><ellipse cx="610" cy="702" rx="8" ry="4"/><ellipse cx="632" cy="702" rx="8" ry="4"/><ellipse cx="658" cy="702" rx="8" ry="4"/></g>
<ellipse cx="600" cy="719" rx="10" ry="9" fill="#e6e100" stroke="#053c3a" stroke-width="1.5"/>
<ellipse cx="675" cy="725" rx="6" ry="8" fill="#e6e100" stroke="#053c3a" stroke-width="1.5"/>
<path d="M600,610 Q602,584 622,583 Q642,584 645,610 Z" fill="#e6e100" stroke="#053c3a" stroke-width="2"/>
<ellipse cx="622" cy="611" rx="44" ry="7" fill="#e6e100" stroke="#053c3a" stroke-width="2"/>
<path d="M742,805 L742,780 L770,770 L790,745 L892,742 L900,770 L903,805 Z" fill="#3fb59e" stroke="#053c3a" stroke-width="2"/>
<rect x="810" y="733" width="78" height="6" fill="#053c3a"/>
<g fill="#053c3a"><polygon points="795,770 805,752 830,752 830,770"/><rect x="835" y="752" width="22" height="18"/><rect x="862" y="752" width="14" height="18"/><rect x="742" y="795" width="161" height="10"/></g>
<rect x="742" y="776" width="10" height="6" fill="#e6e100"/>
<circle cx="773" cy="808" r="16" fill="#053c3a"/><circle cx="773" cy="808" r="8" fill="#3fb59e"/>
<circle cx="857" cy="808" r="16" fill="#053c3a"/><circle cx="857" cy="808" r="8" fill="#3fb59e"/>
<path d="M888,705 Q880,690 890,680 Q896,695 900,702" fill="#3fb59e" stroke="#00896f" stroke-width="3"/>
<path d="M910,708 Q912,692 923,692 Q934,692 936,708 Z" fill="#3fb59e" stroke="#053c3a" stroke-width="1.5"/>
<ellipse cx="923" cy="708" rx="27" ry="6" fill="#3fb59e" stroke="#053c3a" stroke-width="1.5"/>
<rect x="913" y="712" width="20" height="20" fill="#e9eded" stroke="#053c3a" stroke-width="1.5"/>
<rect x="898" y="732" width="54" height="45" fill="#fff" stroke="#053c3a" stroke-width="1.5"/>
<rect x="905" y="732" width="38" height="45" fill="#e6e100" stroke="#053c3a" stroke-width="1.5"/>
<polygon points="893,745 914,740 919,765 898,770" fill="#f24b57" stroke="#053c3a" stroke-width="1.5"/>
<rect x="903" y="777" width="52" height="45" fill="#053c3a"/>
<rect x="910" y="822" width="10" height="22" fill="#fff"/><rect x="936" y="822" width="10" height="22" fill="#fff"/>
<rect x="905" y="843" width="18" height="10" fill="#3fb59e"/><rect x="932" y="843" width="18" height="10" fill="#3fb59e"/>
<line x1="974" y1="722" x2="964" y2="855" stroke="#053c3a" stroke-width="5"/>
<polygon points="974,797 1070,797 1062,822 982,822" fill="#f24b57" stroke="#053c3a" stroke-width="2"/>
<polyline points="1066,810 1080,775 1098,775" fill="none" stroke="#053c3a" stroke-width="4"/>
<rect x="990" y="787" width="12" height="10" fill="#053c3a"/><rect x="1010" y="787" width="12" height="10" fill="#053c3a"/>
<circle cx="998" cy="843" r="11" fill="#053c3a"/><circle cx="998" cy="843" r="4" fill="#fff"/>
<circle cx="1043" cy="843" r="11" fill="#053c3a"/><circle cx="1043" cy="843" r="4" fill="#fff"/>
<path d="M1020,608 Q1022,597 1028,597 Q1036,597 1036,608 Z" fill="#f24b57"/>
<ellipse cx="1027" cy="608" rx="16" ry="4" fill="#f24b57" stroke="#053c3a" stroke-width="1"/>
<rect x="1021" y="611" width="14" height="16" fill="#c8cfcf"/>
<path d="M1020,628 L1050,622 L1060,655 L1030,662 Z" fill="#fff" stroke="#053c3a" stroke-width="1.5"/>
<rect x="1036" y="622" width="18" height="32" fill="#e6e100"/>
<rect x="1049" y="640" width="17" height="13" fill="#3fb59e" stroke="#053c3a" stroke-width="1"/>
<path d="M1030,655 L1055,655 L1062,683 L1050,683 L1043,668 L1038,683 L1026,683 Z" fill="#053c3a"/>
<line x1="1016" y1="618" x2="1030" y2="683" stroke="#053c3a" stroke-width="3"/>
<rect x="1070" y="670" width="12" height="13" fill="#053c3a"/><use xlink:href="#sap" x="1076" y="670"/>
<line x1="1012" y1="683" x2="1090" y2="683" stroke="#053c3a" stroke-width="2"/>
<rect x="1128" y="598" width="22" height="32" fill="#053c3a"/>
<rect x="1135" y="602" width="14" height="20" fill="#c8cfcf"/>
<path d="M1128,598 Q1130,586 1142,586 Q1154,586 1156,598 Z" fill="#3fb59e" stroke="#053c3a" stroke-width="1.5"/>
<ellipse cx="1142" cy="599" rx="22" ry="5" fill="#3fb59e" stroke="#053c3a" stroke-width="1.5"/>
<path d="M1098,650 L1112,622 L1158,620 L1168,660 L1110,665 Z" fill="#fff" stroke="#053c3a" stroke-width="1.5"/>
<rect x="1114" y="622" width="11" height="38" fill="#e6e100"/><rect x="1140" y="622" width="11" height="38" fill="#e6e100"/>
<path d="M1118,650 L1150,650 L1157,712 L1140,712 L1134,680 L1128,712 L1108,712 Z" fill="#053c3a"/>
<line x1="1100" y1="655" x2="1160" y2="710" stroke="#053c3a" stroke-width="4"/>
<polygon points="1150,705 1170,700 1172,714 1156,715" fill="#053c3a"/>
<line x1="1078" y1="715" x2="1185" y2="715" stroke="#053c3a" stroke-width="2"/>

<!-- ===== BAU FIGURES ===== -->
<rect x="882" y="883" width="202" height="52" fill="#053c3a"/>
<g stroke="#7c7e7f" stroke-width="2"><line x1="890" y1="895" x2="1080" y2="895"/><line x1="885" y1="907" x2="1075" y2="907"/><line x1="890" y1="919" x2="1080" y2="919"/></g>
<g stroke="#c8cfcf" stroke-width="3"><line x1="925" y1="880" x2="925" y2="937"/><line x1="962" y1="880" x2="962" y2="937"/><line x1="1000" y1="880" x2="1000" y2="937"/><line x1="1040" y1="880" x2="1040" y2="937"/></g>
<rect x="890" y="935" width="170" height="6" fill="#f24b57"/>
<path d="M791,952 L795,912 L812,905 L830,905 L833,887 L872,887 L872,952 Z" fill="#f24b57" stroke="#053c3a" stroke-width="2"/>
<rect x="840" y="895" width="20" height="18" fill="#053c3a"/>
<rect x="862" y="862" width="7" height="60" fill="#c8cfcf" stroke="#053c3a" stroke-width="1.5"/>
<rect x="786" y="940" width="12" height="15" fill="#c8cfcf" stroke="#053c3a" stroke-width="1.5"/>
<circle cx="829" cy="950" r="15" fill="#053c3a"/><circle cx="829" cy="950" r="8" fill="#fff"/><circle cx="829" cy="950" r="3" fill="#053c3a"/>
<g><circle cx="910" cy="952" r="12" fill="#00896f" stroke="#053c3a" stroke-width="2"/><circle cx="939" cy="952" r="12" fill="#00896f" stroke="#053c3a" stroke-width="2"/><circle cx="1002" cy="952" r="12" fill="#00896f" stroke="#053c3a" stroke-width="2"/><circle cx="1033" cy="952" r="12" fill="#00896f" stroke="#053c3a" stroke-width="2"/></g>
<g fill="#fff"><circle cx="910" cy="952" r="5"/><circle cx="939" cy="952" r="5"/><circle cx="1002" cy="952" r="5"/><circle cx="1033" cy="952" r="5"/></g>
<polygon points="1158,987 1170,930 1185,925 1192,987" fill="#e6e100" stroke="#053c3a" stroke-width="2"/>
<rect x="1195" y="902" width="95" height="45" fill="#e6e100" stroke="#053c3a" stroke-width="2"/>
<rect x="1248" y="870" width="45" height="40" fill="#f24b57" stroke="#053c3a" stroke-width="2"/>
<rect x="1255" y="877" width="13" height="16" fill="#053c3a"/><rect x="1273" y="877" width="13" height="16" fill="#053c3a"/>
<rect x="1188" y="942" width="125" height="45" rx="20" fill="#e6e100" stroke="#053c3a" stroke-width="3"/>
<rect x="1194" y="948" width="113" height="33" rx="15" fill="none" stroke="#fff" stroke-width="3" stroke-dasharray="3 3"/>
<circle cx="1215" cy="925" r="5" fill="#f24b57"/>
<rect x="1433" y="860" width="13" height="25" fill="#3fb59e" stroke="#053c3a" stroke-width="1.5"/>
<path d="M1445,853 Q1447,843 1455,843 Q1463,843 1465,853 Z" fill="#3fb59e"/>
<rect x="1447" y="853" width="14" height="14" fill="#e2e5e5"/>
<rect x="1445" y="867" width="18" height="30" fill="#e6e100" stroke="#053c3a" stroke-width="1.5"/>
<path d="M1444,895 L1464,895 L1468,935 L1458,935 L1454,912 L1450,935 L1440,935 Z" fill="#f24b57" stroke="#053c3a" stroke-width="1.5"/>
<line x1="1463" y1="885" x2="1500" y2="900" stroke="#053c3a" stroke-width="3"/>
<path d="M1555,870 Q1560,852 1573,852 Q1586,852 1590,870 Z" fill="#f24b57" stroke="#053c3a" stroke-width="1.5"/>
<ellipse cx="1572" cy="871" rx="30" ry="5" fill="#f24b57" stroke="#053c3a" stroke-width="1.5"/>
<rect x="1562" y="875" width="18" height="22" fill="#e2e5e5" stroke="#053c3a" stroke-width="1.5"/>
<path d="M1560,897 L1590,895 L1600,950 L1565,952 Z" fill="#fff" stroke="#053c3a" stroke-width="1.5"/>
<rect x="1568" y="897" width="12" height="52" fill="#f24b57"/>
<path d="M1567,950 L1598,950 L1610,1020 L1596,1020 L1583,975 L1580,1022 L1564,1022 Z" fill="#7c7e7f" stroke="#053c3a" stroke-width="1.5"/>
<line x1="1500" y1="912" x2="1590" y2="958" stroke="#f24b57" stroke-width="7"/>
<line x1="1502" y1="900" x2="1500" y2="930" stroke="#053c3a" stroke-width="5"/>
<path d="M1613,992 L1672,992 L1668,1022 L1618,1022 Z" fill="#f24b57" stroke="#053c3a" stroke-width="1.5"/>

<!-- ===== LABELS ===== -->
<line x1="516" y1="663" x2="516" y2="705" stroke="#053c3a" stroke-width="3"/>
<circle cx="516" cy="663" r="12" fill="#053c3a"/>
<rect x="445" y="703" width="88" height="34" rx="4" fill="#053c3a"/>
<text x="456" y="729" font-size="23" fill="#fff" textLength="66" lengthAdjust="spacingAndGlyphs">2020</text>

<rect x="717" y="613" width="200" height="34" rx="4" fill="#053c3a"/>
<rect x="684" y="642" width="266" height="34" rx="4" fill="#053c3a"/>
<text x="725" y="639" font-size="18" fill="#fff" textLength="183" lengthAdjust="spacingAndGlyphs">HALT AND REVERSE</text>
<text x="699" y="666" font-size="18" fill="#fff" textLength="241" lengthAdjust="spacingAndGlyphs">NATURE LOSS FROM 2020</text>

<line x1="1900" y1="329" x2="1940" y2="329" stroke="#053c3a" stroke-width="3"/>
<rect x="1662" y="311" width="247" height="35" rx="4" fill="#053c3a"/>
<text x="1676" y="338" font-size="25" fill="#fff" textLength="223" lengthAdjust="spacingAndGlyphs">NATURE POSITIVE</text>
<polygon points="1937,307 1966,327 1937,347" fill="#053c3a"/>

<rect x="1828" y="645" width="82" height="33" rx="4" fill="#053c3a"/>
<text x="1839" y="671" font-size="25" fill="#fff" textLength="60" lengthAdjust="spacingAndGlyphs">TIME</text>
<polygon points="1937,643 1966,663 1937,683" fill="#00896f"/>

<line x1="1900" y1="1030" x2="1940" y2="1030" stroke="#053c3a" stroke-width="3"/>
<rect x="1626" y="1015" width="280" height="35" rx="4" fill="#053c3a"/>
<text x="1638" y="1041" font-size="24" fill="#fff" textLength="258" lengthAdjust="spacingAndGlyphs">BUSINESS AS USUAL</text>
<polygon points="1934,1010 1962,1030 1934,1050" fill="#053c3a"/>
</svg>
</body></html>
